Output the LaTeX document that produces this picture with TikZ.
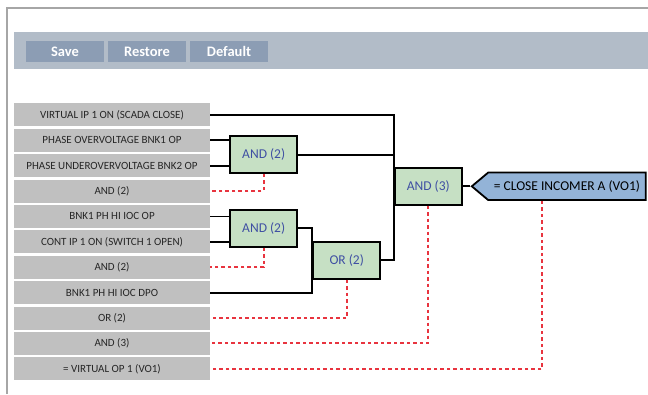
\documentclass[tikz,border=0pt]{standalone}
\usepackage{fontspec}
\setmainfont{Carlito}
\usetikzlibrary{shapes.symbols, positioning}
\definecolor{boxgray}{HTML}{C0C0C0}
\definecolor{gategreen}{HTML}{C6E0C4}
\definecolor{gateblue}{HTML}{3F4FA3}
\definecolor{outblue}{HTML}{93B3D7}
\definecolor{bandgray}{HTML}{B2BCC8}
\definecolor{btnblue}{HTML}{8C9DB4}
\definecolor{framegray}{HTML}{A6A6A6}
\definecolor{dotred}{HTML}{E8343F}

\begin{document}
\begin{tikzpicture}[
        x=1pt, y=-1pt,
        inbox/.style={rectangle, fill=boxgray, minimum width=196pt, minimum height=23pt, inner sep=0pt, align=center, text=black!85, font=\fontsize{11}{13}\selectfont},
        gate/.style={rectangle, draw=black, line width=2pt, fill=gategreen, minimum width=67pt, minimum height=36.5pt, inner sep=0pt, text=gateblue, font=\fontsize{13.5}{15}\selectfont},
        result/.style={signal, signal to=west, signal from=nowhere, signal pointer angle=80, draw=black, line width=1.8pt, fill=outblue, minimum width=174pt, minimum height=27.5pt, inner sep=0pt, font=\fontsize{13.5}{15}\selectfont},
        button/.style={rectangle, fill=btnblue, minimum width=78pt, minimum height=21pt, inner sep=0pt, text=white, font=\bfseries\fontsize{14.5}{17}\selectfont},
        wire/.style={draw=black, line width=1.8pt},
        negwire/.style={draw=dotred, line width=2pt, dash pattern=on 3.5pt off 3pt}
    ]
        \useasboundingbox (0,0) rectangle (648,394);
        \draw[framegray, line width=1.8pt] (6.7,394) -- (6.7,8) -- (648,8);
        \fill[bandgray] (14,32) rectangle (648,69);
        \node[button] (save) at (65,51.5) {Save};
        \node[button] (restore) at (147,51.5) {Restore};
        \node[button] (default) at (229,51.5) {Default};

        \node[inbox] (in1) at (112,114.8) {VIRTUAL IP 1 ON (SCADA CLOSE)};
        \node[inbox] (in2) at (112,140.2) {PHASE OVERVOLTAGE BNK1 OP};
        \node[inbox] (in3) at (112,165.6) {PHASE UNDEROVERVOLTAGE BNK2 OP};
        \node[inbox] (in4) at (112,191.0) {AND (2)};
        \node[inbox] (in5) at (112,216.4) {BNK1 PH HI IOC OP};
        \node[inbox] (in6) at (112,241.8) {CONT IP 1 ON (SWITCH 1 OPEN)};
        \node[inbox] (in7) at (112,267.2) {AND (2)};
        \node[inbox] (in8) at (112,292.6) {BNK1 PH HI IOC DPO};
        \node[inbox] (in9) at (112,318.0) {OR (2)};
        \node[inbox] (in10) at (112,343.4) {AND (3)};
        \node[inbox] (in11) at (112,368.8) {= VIRTUAL OP 1 (VO1)};

        \node[gate] (and2a) at (263.7,154.7) {AND (2)};
        \node[gate] (and2b) at (263.7,228.3) {AND (2)};
        \node[gate] (or2) at (346.7,260.3) {OR (2)};
        \node[gate] (and3) at (428.3,186.3) {AND (3)};
        \node[result, anchor=east] (vo1) at (646.7,186.3) {= CLOSE INCOMER A (VO1)};

        \draw[wire] (in1.east) -- (in1.east -| and3.west) -- (and3.west |- or2.east) -- (or2.east);
        \draw[wire] (in2.east) -- (in2.east -| and2a.west);
        \draw[wire] (in3.east) -- (in3.east -| and2a.west);
        \draw[wire] (and2a.east) -- (and2a.east -| and3.west);
        \draw[wire] (in5.east) -- (in5.east -| and2b.west);
        \draw[wire] (in6.east) -- (in6.east -| and2b.west);
        \draw[wire] (and2b.east) -- (and2b.east -| or2.west) -- (or2.west |- in8.east) -- (in8.east);
        \draw[wire] (and3.east) -- (vo1.west);

        \draw[negwire] (and2a.south) |- (in4.east);
        \draw[negwire] (and2b.south) |- (in7.east);
        \draw[negwire] (or2.south) |- (in9.east);
        \draw[negwire] (and3.south) |- (in10.east);
        \draw[negwire] ([xshift=-24.5pt]vo1.south) |- (in11.east);
    \end{tikzpicture}
\end{document}
